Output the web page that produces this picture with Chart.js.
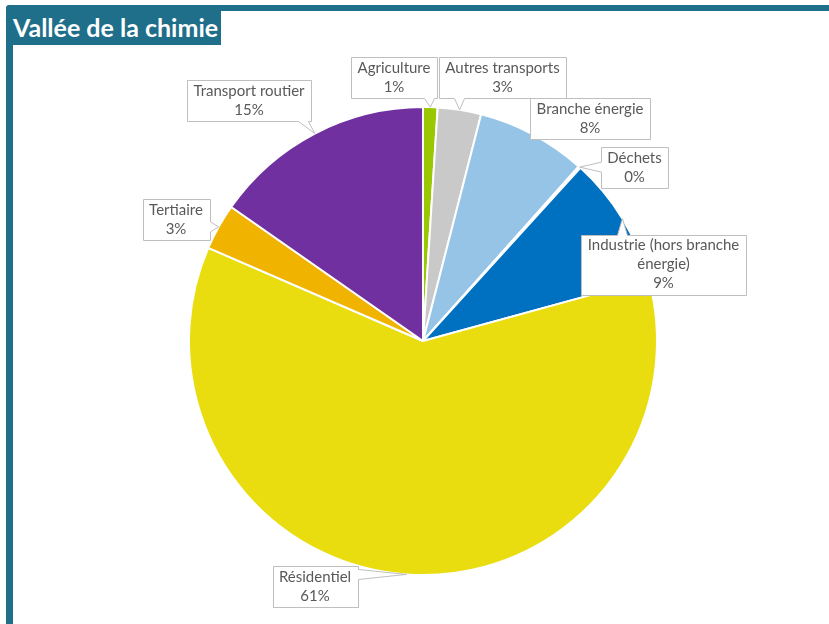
<!DOCTYPE html>
<html lang="fr">
<head>
<meta charset="utf-8">
<script src="https://cdn.jsdelivr.net/npm/chart.js@4.4.1/dist/chart.umd.min.js"></script>
<style>
html, body { margin: 0; padding: 0; background: #fff; }
#wrap { position: relative; width: 829px; height: 624px; overflow: hidden; }
#barTop { position: absolute; left: 6px; top: 5px; right: 0; height: 6px; background: #1f6e8a; border-top-left-radius: 4px; }
#barLeft { position: absolute; left: 6px; top: 5px; width: 7px; bottom: 0; background: #1f6e8a; border-top-left-radius: 4px; }
#title { position: absolute; left: 6px; top: 5px; width: 215px; height: 40px; background: #1f6e8a; border-top-left-radius: 4px;
  color: #fff; font: bold 25px Lato, sans-serif; line-height: 44px; padding-left: 7px; box-sizing: border-box; white-space: nowrap; }
#chart { position: absolute; left: 0; top: 0; }
</style>
</head>
<body>
<div id="wrap">
  <div id="barTop"></div>
  <div id="barLeft"></div>
  <div id="title">Vallée de la chimie</div>
  <canvas id="chart" width="829" height="624"></canvas>
</div>
<script>
// données
const categories = ['Agriculture', 'Autres transports', 'Branche énergie', 'Déchets',
  'Industrie (hors branche énergie)', 'Résidentiel', 'Tertiaire', 'Transport routier'];
const shares = [1.0, 3.0, 7.6, 0.15, 9.0, 60.8, 3.2, 15.3];
const sliceColors = ['#99c800', '#c9c9c9', '#95c4e6', '#eeeeee', '#0070c0', '#e9dc0f', '#f0b400', '#7030a0'];

// centre des étiquettes (px)
const calloutPos = [[394, 77.5], [502.5, 77.5], [590, 118.5], [634.5, 167.5],
  [663.5, 264.5], [315, 586.5], [176, 219.5], [249, 100.5]];

const total = shares.reduce((a, b) => a + b, 0);
const pct = i => Math.round(shares[i] / total * 100) + '%';

function wrapText(ctx, text, maxW) {
  const words = text.split(' ');
  const lines = [];
  let cur = '';
  words.forEach(w => {
    const test = cur ? cur + ' ' + w : w;
    if (ctx.measureText(test).width > maxW && cur) { lines.push(cur); cur = w; }
    else cur = test;
  });
  if (cur) lines.push(cur);
  return lines;
}

const calloutPlugin = {
  id: 'callouts',
  afterDatasetsDraw(chart) {
    const ctx = chart.ctx;
    const arcs = chart.getDatasetMeta(0).data;
    ctx.save();
    ctx.font = '15px Lato, sans-serif';
    ctx.textAlign = 'center';
    ctx.textBaseline = 'middle';
    arcs.forEach((arc, i) => {
      const p = arc.getProps(['x', 'y', 'startAngle', 'endAngle', 'outerRadius'], true);
      const mid = (p.startAngle + p.endAngle) / 2;
      const ax = p.x + Math.cos(mid) * p.outerRadius;
      const ay = p.y + Math.sin(mid) * p.outerRadius;
      const lines = wrapText(ctx, categories[i], 160).concat([pct(i)]);
      const w = Math.round(Math.max(...lines.map(l => ctx.measureText(l).width)) + 13);
      const h = lines.length * 19 + 3;
      const [cx, cy] = calloutPos[i];
      const L = Math.round(cx - w / 2) + 0.5, R = L + w;
      const T = Math.round(cy - h / 2) + 0.5, B = T + h;
      const clamp = (v, a, b) => Math.max(a, Math.min(b, v));
      let pts;
      if (ay > B) {
        const bx = clamp(ax, L + 8, R - 8);
        pts = [[L, T], [R, T], [R, B], [bx + 5, B], [ax, ay], [bx - 5, B], [L, B]];
      } else if (ay < T) {
        const bx = clamp(ax, L + 8, R - 8);
        pts = [[L, T], [bx - 5, T], [ax, ay], [bx + 5, T], [R, T], [R, B], [L, B]];
      } else if (ax > R) {
        const by = clamp(ay, T + 8, B - 8);
        pts = [[L, T], [R, T], [R, by - 5], [ax, ay], [R, by + 5], [R, B], [L, B]];
      } else if (ax < L) {
        const by = clamp(ay, T + 8, B - 8);
        pts = [[L, T], [R, T], [R, B], [L, B], [L, by + 5], [ax, ay], [L, by - 5]];
      } else {
        pts = [[L, T], [R, T], [R, B], [L, B]];
      }
      ctx.beginPath();
      pts.forEach((q, k) => k ? ctx.lineTo(q[0], q[1]) : ctx.moveTo(q[0], q[1]));
      ctx.closePath();
      ctx.fillStyle = '#ffffff';
      ctx.fill();
      ctx.strokeStyle = '#bfbfbf';
      ctx.lineWidth = 1;
      ctx.stroke();
      ctx.fillStyle = '#595959';
      const top = cy - (lines.length - 1) * 19 / 2;
      lines.forEach((l, k) => ctx.fillText(l, cx, top + k * 19));
    });
    ctx.restore();
  }
};

new Chart(document.getElementById('chart'), {
  type: 'pie',
  data: {
    labels: categories,
    datasets: [{ data: shares, backgroundColor: sliceColors, borderColor: '#ffffff', borderWidth: 2 }]
  },
  options: {
    responsive: false,
    animation: false,
    layout: { padding: { left: 188, top: 106, right: 171, bottom: 48 } },
    plugins: { legend: { display: false }, tooltip: { enabled: false } }
  },
  plugins: [calloutPlugin]
});
</script>
</body>
</html>
